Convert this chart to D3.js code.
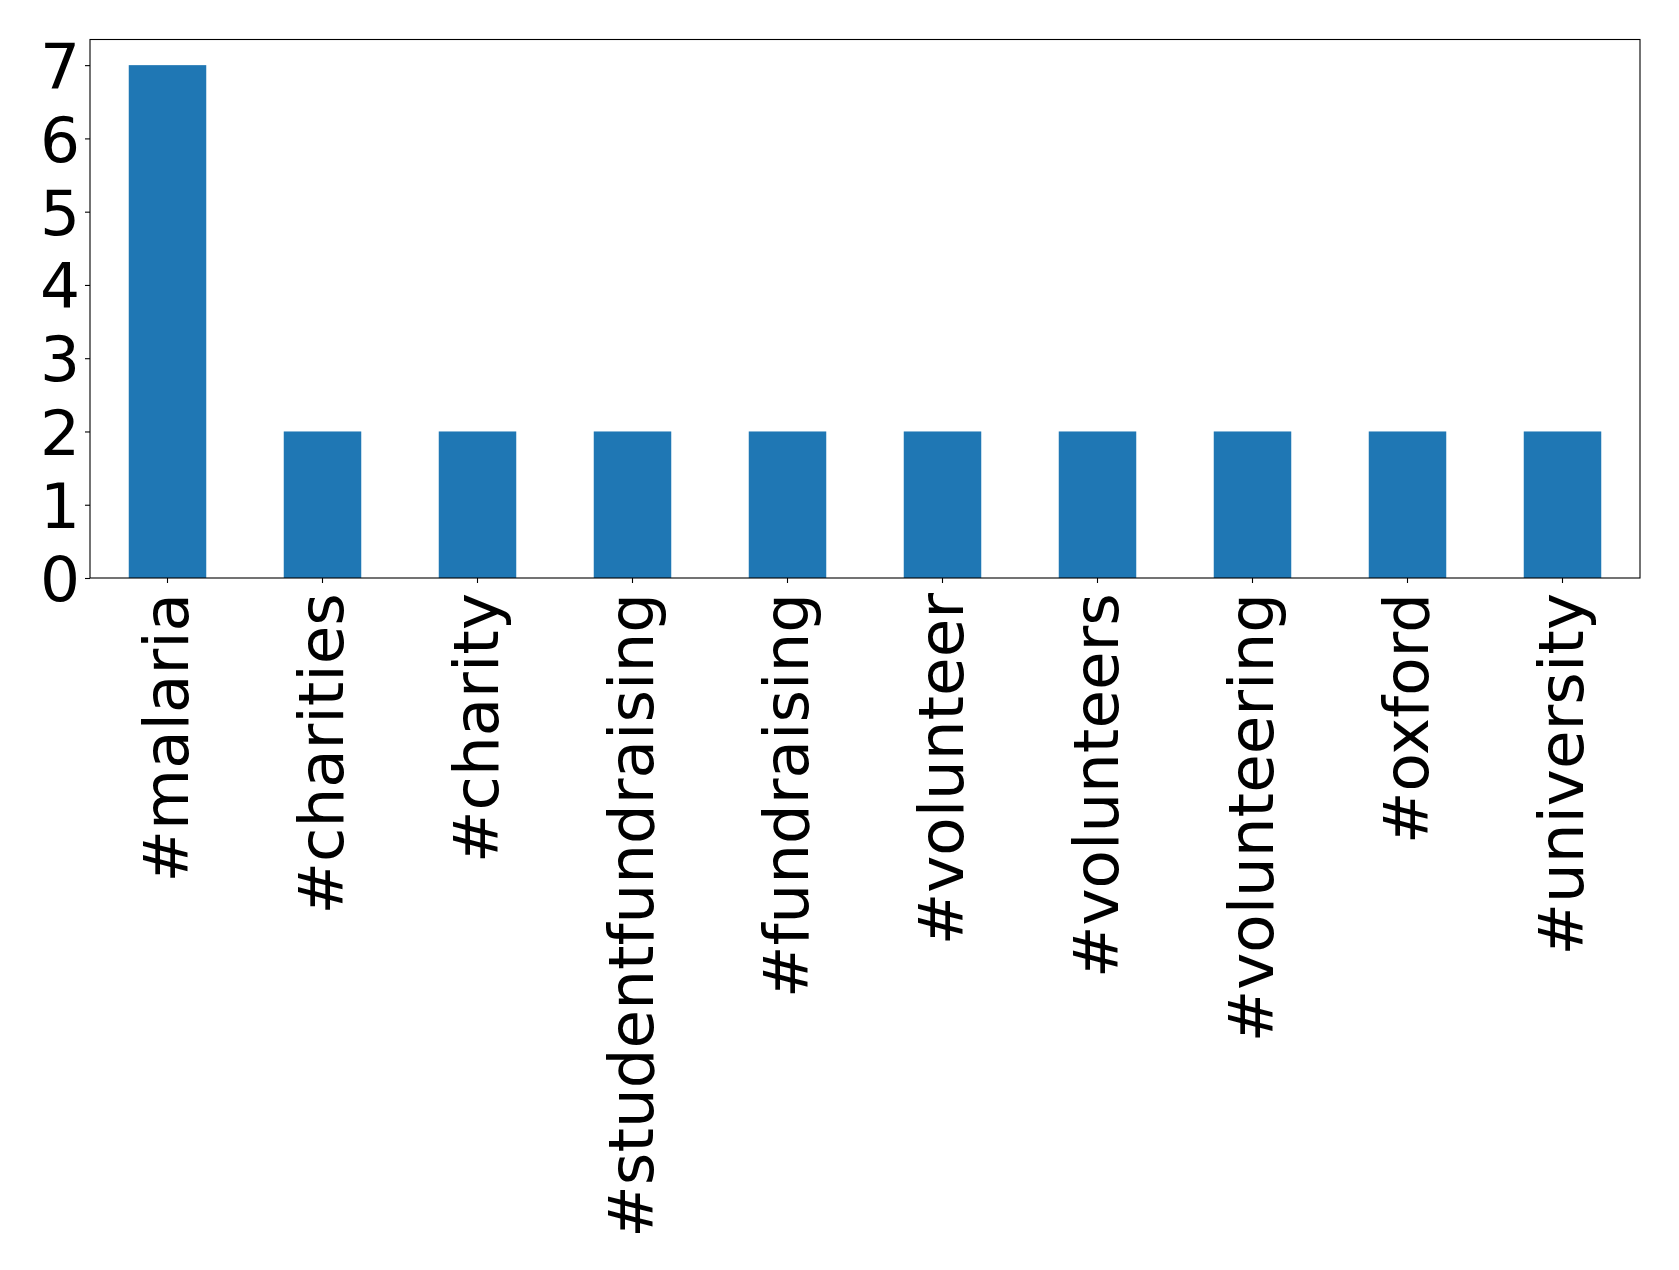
<!DOCTYPE html>
<html>
<head>
<meta charset="utf-8">
<script src="https://cdn.jsdelivr.net/npm/d3@7"></script>
<style>
html,body{margin:0;padding:0;background:#fff;}
svg{display:block;}
text{font-family:"DejaVu Sans",sans-serif;fill:#000;}
</style>
</head>
<body>
<svg id="chart" width="1679" height="1270"></svg>
<script>
const categories = ["#malaria","#charities","#charity","#studentfundraising","#fundraising","#volunteer","#volunteers","#volunteering","#oxford","#university"];
const values = [7,2,2,2,2,2,2,2,2,2];
const yTicks = [0,1,2,3,4,5,6,7];

const W = 1679, H = 1270;
const m = {left: 90, right: 1640, top: 39.5, bottom: 578};
const svg = d3.select("#chart");
svg.append("rect").attr("width", W).attr("height", H).attr("fill", "#fff");

const x = d3.scaleBand().domain(categories).range([m.left, m.right]).paddingInner(0.5).paddingOuter(0.25);
const yMax = d3.max(values) * 1.05;
const y = d3.scaleLinear().domain([0, yMax]).range([m.bottom, m.top]);

svg.append("g").selectAll("rect").data(values).join("rect")
  .attr("x", (d, i) => x(categories[i]))
  .attr("width", x.bandwidth())
  .attr("y", d => y(d))
  .attr("height", d => y(0) - y(d))
  .attr("fill", "#1f77b4");

const fsY = 63;
const fsX = 62.7;
const yAxis = d3.axisLeft(y).tickValues(yTicks).tickFormat(d3.format("d")).tickSize(5).tickPadding(5);
const gy = svg.append("g").attr("transform", `translate(${m.left},0)`).call(yAxis);
gy.select(".domain").remove();
gy.selectAll("line").attr("stroke", "#000").attr("stroke-width", 1.1);
gy.selectAll("text").attr("font-size", fsY).attr("font-family", "DejaVu Sans").attr("dy", "0.36em");

const xAxis = d3.axisBottom(x).tickSize(5).tickPadding(0);
const gx = svg.append("g").attr("transform", `translate(0,${m.bottom})`).call(xAxis);
gx.select(".domain").remove();
gx.selectAll("line").attr("stroke", "#000").attr("stroke-width", 1.1);
gx.selectAll("text")
  .attr("font-size", fsX).attr("font-family", "DejaVu Sans")
  .attr("text-anchor", "end")
  .attr("transform", "translate(0,15) rotate(-90)")
  .attr("x", 0).attr("y", 0).attr("dy", "0.32em");

svg.append("rect")
  .attr("x", m.left).attr("y", m.top)
  .attr("width", m.right - m.left).attr("height", m.bottom - m.top)
  .attr("fill", "none").attr("stroke", "#000").attr("stroke-width", 1.1);
</script>
</body>
</html>
